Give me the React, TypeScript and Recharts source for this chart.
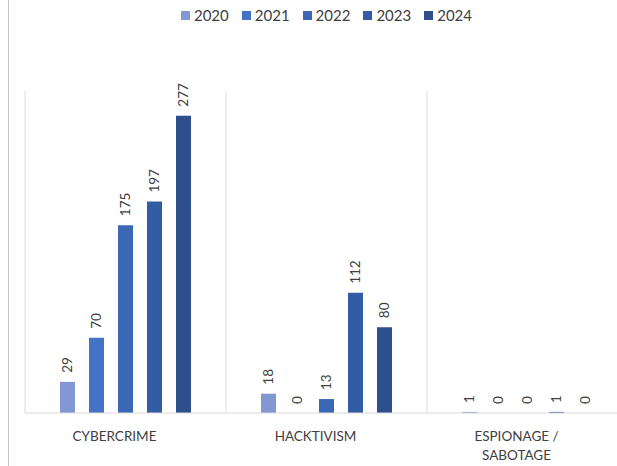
import React from 'react';
import { BarChart, Bar, XAxis, YAxis, CartesianGrid, Legend, LabelList, Text } from 'recharts';

const categories = ['CYBERCRIME', 'HACKTIVISM', 'ESPIONAGE / SABOTAGE'];
const years = ['2020', '2021', '2022', '2023', '2024'];
const values2020 = [29, 18, 1];
const values2021 = [70, 0, 0];
const values2022 = [175, 13, 0];
const values2023 = [197, 112, 1];
const values2024 = [277, 80, 0];
const colors = ['#8397D2', '#4472C4', '#3B67B5', '#345CA4', '#2E4E8C'];

const seriesValues = [values2020, values2021, values2022, values2023, values2024];

const data = categories.map((c, i) => {
  const row: Record<string, any> = { category: c };
  years.forEach((y, j) => {
    row[y] = seriesValues[j][i];
  });
  return row;
});

const renderLegend = (props: any) => {
  const { payload } = props;
  return (
    <div style={{ display: 'flex', justifyContent: 'center', height: 0, overflow: 'visible' }}>
      {(payload || []).map((p: any) => (
        <div key={p.value} style={{ display: 'flex', alignItems: 'center', margin: '0 6.5px', height: 18 }}>
          <span style={{ width: 9, height: 9, background: p.color, display: 'inline-block', marginRight: 4 }} />
          <span style={{ fontSize: 15, color: '#404040', lineHeight: '18px' }}>{p.value}</span>
        </div>
      ))}
    </div>
  );
};

const renderValueLabel = (props: any) => {
  const { x, y, width, value } = props;
  const cx = Number(x) + Number(width) / 2;
  const ty = Number(y) - 9;
  return (
    <text
      x={cx}
      y={ty}
      transform={`rotate(-90 ${cx} ${ty})`}
      textAnchor="start"
      dy="0.35em"
      fontSize={13.5}
      fill="#404040"
    >
      {value}
    </text>
  );
};

const renderTick = (props: any) => {
  const { x, y, payload } = props;
  return (
    <Text
      x={x - 11}
      y={y}
      dy={10}
      width={110}
      textAnchor="middle"
      verticalAnchor="start"
      lineHeight={19}
      fontSize={13.5}
      fill="#404040"
    >
      {payload.value}
    </Text>
  );
};

export default function App() {
  return (
    <div
      style={{
        position: 'absolute',
        left: 8,
        top: 0,
        width: 609,
        height: 466,
        boxSizing: 'border-box',
        borderLeft: '1px solid #c4c4c4',
        overflow: 'hidden',
        fontFamily: 'Lato, sans-serif',
        background: '#fff',
      }}
    >
      <BarChart
        width={640}
        height={466}
        data={data}
        margin={{ top: 91, left: 16, right: 21, bottom: 23 }}
        barCategoryGap={35}
        barGap={14}
      >
        <CartesianGrid
          horizontal={false}
          stroke="#dcdcdc"
          verticalCoordinatesGenerator={(p: any) => {
            const off = p.offset;
            return [0, 1, 2].map((i) => off.left + (i * off.width) / 3);
          }}
        />
        <XAxis
          dataKey="category"
          axisLine={{ stroke: '#d9d9d9' }}
          tickLine={false}
          interval={0}
          height={30}
          tick={renderTick}
        />
        <YAxis hide domain={[0, 300]} />
        <Legend verticalAlign="top" content={renderLegend} wrapperStyle={{ top: 6 }} />
        {years.map((y, j) => (
          <Bar key={y} dataKey={y} fill={colors[j]} minPointSize={0.01} isAnimationActive={false}>
            <LabelList dataKey={y} content={renderValueLabel} />
          </Bar>
        ))}
      </BarChart>
    </div>
  );
}
